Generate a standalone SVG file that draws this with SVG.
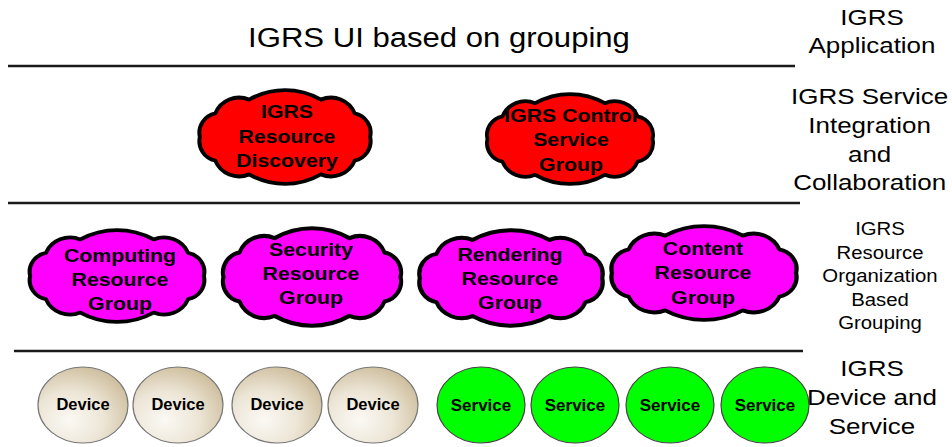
<svg xmlns="http://www.w3.org/2000/svg" width="952" height="447" viewBox="0 0 952 447">
<style>
.cloud{stroke:#000;stroke-width:4;vector-effect:non-scaling-stroke;stroke-linejoin:round}
.red{fill:#ff0000}
.mag{fill:#ff00ff}
.ct{font-family:"Liberation Sans",Arial,sans-serif;font-weight:bold;font-size:19px;text-anchor:middle;fill:#000}
.lbl{font-family:"Liberation Sans",Arial,sans-serif;font-size:22px;text-anchor:middle;fill:#000}
.lbs{font-family:"Liberation Sans",Arial,sans-serif;font-size:18.5px;text-anchor:middle;fill:#000}
.title{font-family:"Liberation Sans",Arial,sans-serif;font-size:28px;text-anchor:middle;fill:#000}
.sep{stroke:#1a1a1a;stroke-width:2.5}
.dev{fill:url(#devg);stroke:#777;stroke-width:1.2}
.svc{fill:#00ff00;stroke:#444;stroke-width:1.2}
.dt{font-family:"Liberation Sans",Arial,sans-serif;font-weight:bold;font-size:16.5px;text-anchor:middle;fill:#000}
.st{font-family:"Liberation Sans",Arial,sans-serif;font-weight:bold;font-size:17px;text-anchor:middle;fill:#000}
</style>
<defs>
<path id="cloudShape" d="M-86,0 A20.1,20.1 0 0 1 -70.4,-24.1 A25.8,25.8 0 0 1 -36.3,-38.1 A72.6,72.6 0 0 1 36.3,-38.1 A25.8,25.8 0 0 1 70.4,-24.1 A20.1,20.1 0 0 1 86,0 A20.1,20.1 0 0 1 70.4,24.1 A25.8,25.8 0 0 1 36.3,38.1 A72.6,72.6 0 0 1 -36.3,38.1 A25.8,25.8 0 0 1 -70.4,24.1 A20.1,20.1 0 0 1 -86,0 Z"/>
<radialGradient id="devg" cx="35%" cy="70%" r="75%">
<stop offset="0" stop-color="#fbf9f4"/>
<stop offset="0.5" stop-color="#ede6d7"/>
<stop offset="1" stop-color="#cdbd9c"/>
</radialGradient>
</defs>
<rect width="952" height="447" fill="#fff"/>

<g id="separators">
<line class="sep" x1="8" y1="66" x2="795" y2="66"/>
<line class="sep" x1="8" y1="203" x2="800" y2="203"/>
<line class="sep" x1="14" y1="351" x2="803" y2="351"/>
</g>

<g id="title">
<g transform="translate(439,0) scale(1.11,1)"><text class="title" x="0" y="47">IGRS UI based on grouping</text></g>
</g>

<g id="layer-labels">
<g transform="translate(872,0) scale(1.18,1)">
<text class="lbl" x="0" y="25">IGRS</text>
<text class="lbl" x="0" y="53">Application</text>
<text class="lbl" x="-2" y="104">IGRS Service</text>
<text class="lbl" x="-2" y="133">Integration</text>
<text class="lbl" x="-2" y="162">and</text>
<text class="lbl" x="-2" y="190">Collaboration</text>
<text class="lbl" x="0" y="376">IGRS</text>
<text class="lbl" x="0" y="405">Device and</text>
<text class="lbl" x="0" y="434">Service</text>
</g>
<g transform="translate(880,0) scale(1.1,1)">
<text class="lbs" x="0" y="235">IGRS</text>
<text class="lbs" x="0" y="259">Resource</text>
<text class="lbs" x="0" y="282">Organization</text>
<text class="lbs" x="0" y="306">Based</text>
<text class="lbs" x="0" y="329">Grouping</text>
</g>
</g>

<g id="discovery">
<use href="#cloudShape" class="cloud red" transform="translate(285,137) scale(0.99,0.98)"/>
<g transform="translate(287,0) scale(1.12,1)">
<text class="ct" x="0" y="118">IGRS</text>
<text class="ct" x="0" y="143">Resource</text>
<text class="ct" x="0" y="167">Discovery</text>
</g>
</g>

<g id="control">
<use href="#cloudShape" class="cloud red" transform="translate(570,139) scale(0.96,0.94)"/>
<g transform="translate(571,0) scale(1.12,1)">
<text class="ct" x="0" y="122">IGRS Control</text>
<text class="ct" x="0" y="146">Service</text>
<text class="ct" x="0" y="171">Group</text>
</g>
</g>

<g id="computing">
<use href="#cloudShape" class="cloud mag" transform="translate(117,276) scale(1.01,0.96)"/>
<g transform="translate(120,0) scale(1.12,1)">
<text class="ct" x="0" y="262">Computing</text>
<text class="ct" x="0" y="286">Resource</text>
<text class="ct" x="0" y="310">Group</text>
</g>
</g>

<g id="security">
<use href="#cloudShape" class="cloud mag" transform="translate(312,277) scale(1.03,1.02)"/>
<g transform="translate(311,0) scale(1.12,1)">
<text class="ct" x="0" y="256">Security</text>
<text class="ct" x="0" y="280">Resource</text>
<text class="ct" x="0" y="304">Group</text>
</g>
</g>

<g id="rendering">
<use href="#cloudShape" class="cloud mag" transform="translate(511,278) scale(1.06,1.0)"/>
<g transform="translate(510,0) scale(1.12,1)">
<text class="ct" x="0" y="261">Rendering</text>
<text class="ct" x="0" y="285">Resource</text>
<text class="ct" x="0" y="309">Group</text>
</g>
</g>

<g id="content">
<use href="#cloudShape" class="cloud mag" transform="translate(704,273) scale(1.07,0.98)"/>
<g transform="translate(703,0) scale(1.12,1)">
<text class="ct" x="0" y="255">Content</text>
<text class="ct" x="0" y="279">Resource</text>
<text class="ct" x="0" y="304">Group</text>
</g>
</g>

<g id="device1"><ellipse class="dev" cx="83" cy="405" rx="45" ry="38"/><text class="dt" x="83" y="410">Device</text></g>
<g id="device2"><ellipse class="dev" cx="178" cy="405" rx="45" ry="38"/><text class="dt" x="178" y="410">Device</text></g>
<g id="device3"><ellipse class="dev" cx="277" cy="405" rx="45" ry="38"/><text class="dt" x="277" y="410">Device</text></g>
<g id="device4"><ellipse class="dev" cx="373" cy="405" rx="45" ry="38"/><text class="dt" x="373" y="410">Device</text></g>

<g id="service1"><ellipse class="svc" cx="481" cy="405" rx="44" ry="38"/><text class="st" x="481" y="411">Service</text></g>
<g id="service2"><ellipse class="svc" cx="575" cy="405" rx="44" ry="38"/><text class="st" x="575" y="411">Service</text></g>
<g id="service3"><ellipse class="svc" cx="670" cy="405" rx="44" ry="38"/><text class="st" x="670" y="411">Service</text></g>
<g id="service4"><ellipse class="svc" cx="765" cy="405" rx="44" ry="38"/><text class="st" x="765" y="411">Service</text></g>

<g id="connectors"></g>
</svg>
